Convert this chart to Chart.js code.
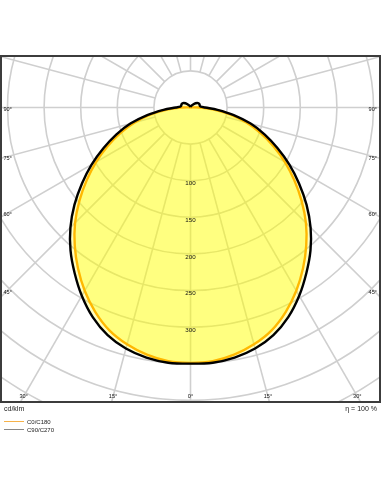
<!DOCTYPE html>
<html><head><meta charset="utf-8">
<script src="https://cdn.jsdelivr.net/npm/chart.js@4/dist/chart.umd.min.js"></script>
<style>
html,body{margin:0;padding:0;background:#fff;}
#wrap{position:relative;width:381px;height:492px;overflow:hidden;}
#c{position:absolute;left:0;top:0;}
.t{position:absolute;font-family:"Liberation Sans",Arial,sans-serif;color:#222;white-space:nowrap;line-height:1;}
.ln{position:absolute;height:0;width:20px;left:4px;}
</style></head><body>
<div id="wrap">
<canvas id="c" width="381" height="492"></canvas>
<div class="t" style="left:4px;top:405px;font-size:7px">cd/klm</div>
<div class="t" style="right:4px;top:405px;font-size:7px">η = 100 %</div>
<div class="ln" style="top:421px;border-top:1px solid #f6b24a"></div>
<div class="t" style="left:27px;top:419px;font-size:6px">C0/C180</div>
<div class="ln" style="top:429px;border-top:1px solid #888"></div>
<div class="t" style="left:27px;top:427px;font-size:6px">C90/C270</div>
</div>
<script>
// ---- data (cd/klm) ----
const gammaAngles = [0,5,10,15,20,25,30,35,40,45,50,55,60,65,70,75,80,85,90,95,100,110,120,130,140,150,160,170,180];
const c0c180  = [349,348,343,335,324,308,289,268,246,223,198,173,149,125,102,79,55,32,12,2,0,0,0,0,0,0,0,0,0];
const c90c270 = [350,350,347,341,331,316,297,276,255,232,207,181,156,131,108,85,60,37,20,14,13,13,12,9,5,3,2,1,0.5];
const ringValues = [50,100,150,200,250,300,350,400,450,500];
const ringLabels = [100,150,200,250,300];
const spokeAngles = [0,15,30,45,60,75,90,105,120,135,150,165,180,195,210,225,240,255,270,285,300,315,330,345];
const sideAngleLabels = [90,75,60,45];
const bottomAngleLabels = [30,15,0];

function toXY(vals){
  const pts=[];
  for(let i=gammaAngles.length-1;i>=0;i--){
    const g=-gammaAngles[i]*Math.PI/180;
    pts.push({x:vals[i]*Math.sin(g), y:-vals[i]*Math.cos(g)});
  }
  for(let i=1;i<gammaAngles.length;i++){
    const g=gammaAngles[i]*Math.PI/180;
    pts.push({x:vals[i]*Math.sin(g), y:-vals[i]*Math.cos(g)});
  }
  return pts;
}

const gridPlugin={
  id:'polarGrid',
  beforeDatasetsDraw(chart){
    const {ctx,chartArea:a,scales:{x,y}}=chart;
    const cx=x.getPixelForValue(0), cy=y.getPixelForValue(0);
    const k=x.getPixelForValue(100)-cx; // px per 100
    ctx.save();
    ctx.beginPath();ctx.rect(a.left,a.top,a.right-a.left,a.bottom-a.top);ctx.clip();
    ctx.strokeStyle='#cfcfcf';ctx.lineWidth=1.6;
    ringValues.forEach(v=>{ctx.beginPath();ctx.arc(cx,cy,v*k/100,0,Math.PI*2);ctx.stroke();});
    spokeAngles.forEach(d=>{
      const g=d*Math.PI/180;
      const r0=ringValues[0], r1=900;
      ctx.beginPath();
      ctx.moveTo(x.getPixelForValue(r0*Math.sin(g)), y.getPixelForValue(-r0*Math.cos(g)));
      ctx.lineTo(x.getPixelForValue(r1*Math.sin(g)), y.getPixelForValue(-r1*Math.cos(g)));
      ctx.stroke();
    });
    ctx.restore();
  },
  afterDatasetsDraw(chart){
    const {ctx,chartArea:a,scales:{x,y}}=chart;
    const cx=x.getPixelForValue(0), cy=y.getPixelForValue(0);
    ctx.save();
    ctx.fillStyle='#111';
    ctx.font='6.2px "Liberation Sans", Arial, sans-serif';
    ctx.textAlign='center';ctx.textBaseline='middle';
    ringLabels.forEach(v=>{ctx.fillText(String(v),cx,y.getPixelForValue(-v)+3);});
    ctx.font='5.6px "Liberation Sans", Arial, sans-serif';
    sideAngleLabels.forEach(d=>{
      const g=d*Math.PI/180;
      const dx=cx-(a.left+5);
      const yy=cy+dx/Math.tan(g)+1.5;
      ctx.textAlign='left';ctx.fillText(d+'°',a.left+1.5,yy);
      ctx.textAlign='right';ctx.fillText(d+'°',a.right-2,yy);
    });
    ctx.textAlign='center';
    bottomAngleLabels.forEach(d=>{
      const g=d*Math.PI/180;
      const yy=a.bottom-4.5;
      const dx=(yy-cy)*Math.tan(g);
      ctx.fillText(d+'°',cx-dx,yy);
      if(d!==0) ctx.fillText(d+'°',cx+dx,yy);
    });
    ctx.restore();
  },
  afterDraw(chart){
    const {ctx,chartArea:a}=chart;
    ctx.save();ctx.strokeStyle='#3c3c3c';ctx.lineWidth=2;
    ctx.strokeRect(a.left-1,a.top-1,a.right-a.left+2,a.bottom-a.top+2);
    ctx.restore();
  }
};

new Chart(document.getElementById('c'),{
  type:'scatter',
  data:{datasets:[
    {label:'C0/C180',data:toXY(c0c180),showLine:true,fill:'shape',backgroundColor:'rgba(255,255,0,0.33)',borderColor:'#ffa000',borderWidth:2.4,pointRadius:0,tension:0.35,order:2},
    {label:'C90/C270',data:toXY(c90c270),showLine:true,fill:'shape',backgroundColor:'rgba(255,255,0,0.25)',borderColor:'#000',borderWidth:2.4,pointRadius:0,tension:0.35,order:1}
  ]},
  options:{
    responsive:false,animation:false,devicePixelRatio:1,
    layout:{padding:{left:2,right:2,top:57,bottom:91}},
    plugins:{legend:{display:false},tooltip:{enabled:false}},
    scales:{
      x:{type:'linear',display:false,min:-257.5,max:257.5},
      y:{type:'linear',display:false,min:-401,max:69}
    }
  },
  plugins:[gridPlugin]
});
</script>
</body></html>
